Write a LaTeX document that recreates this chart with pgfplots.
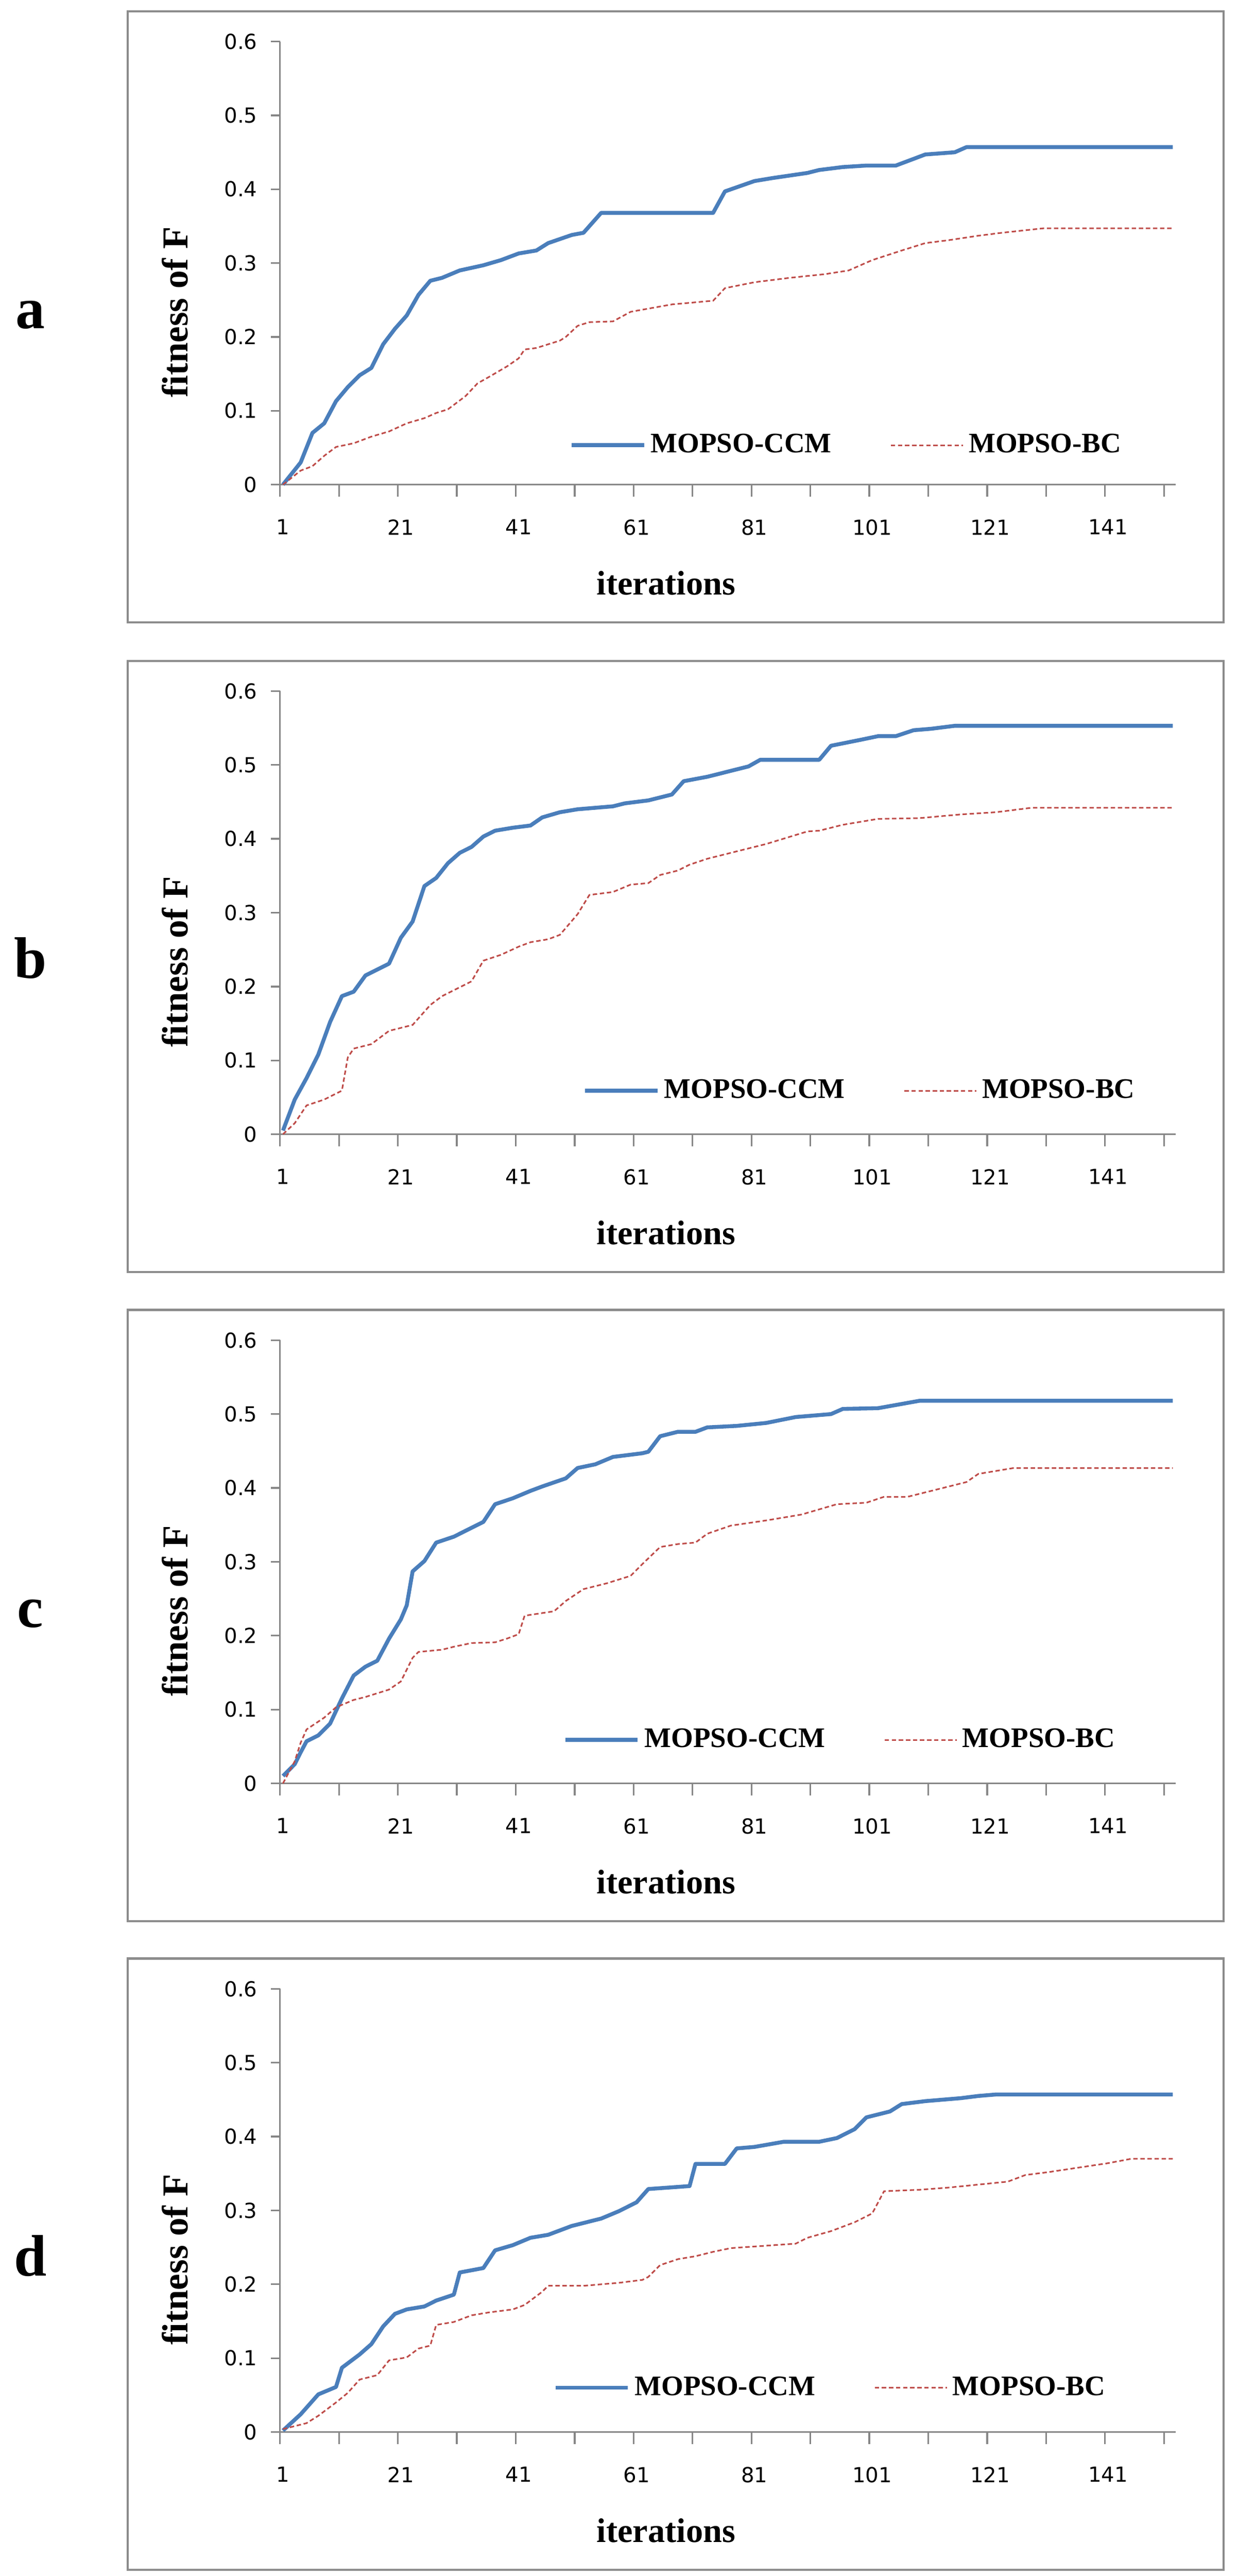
\documentclass[border=0pt]{standalone}
\usepackage{fontspec}
\setmainfont{Liberation Serif}
\newfontfamily\tickfont{DejaVu Sans}
\usepackage{pgfplots}
\pgfplotsset{compat=1.18}

\definecolor{ccm}{HTML}{4A7EBB}
\definecolor{bc}{HTML}{BE4B48}
\definecolor{axgray}{HTML}{868686}
\definecolor{framegray}{HTML}{8C8C8C}

\pgfplotsset{
  panel/.style={
    scale only axis, width=367.2pt, height=181.6pt,
    anchor=south west, clip=false,
    xmin=0.5, xmax=152.5, ymin=0, ymax=0.6,
    axis lines*=left,
    axis line style={axgray, line width=0.7pt},
    xtick={1,21,...,141},
    minor xtick={0.5,10.5,...,150.5},
    ytick={0,0.1,0.2,0.3,0.4,0.5,0.6},
    tick align=outside,
    major tick length=3.8pt, minor tick length=5pt,
    every tick/.style={axgray, line width=0.7pt},
    major x tick style={draw=none},
    tick label style={font=\tickfont\fontsize{8.5}{10}\selectfont},
    /pgf/number format/assume math mode=true,
    yticklabel style={/pgf/number format/fixed, /pgf/number format/precision=1, xshift=-2pt},
    xticklabel style={yshift=-7pt},
    xlabel={iterations},
    ylabel={fitness of F},
    xlabel style={at={(axis description cs:0.431,-0.2225)}, anchor=center,
                  font=\bfseries\fontsize{14}{16}\selectfont},
    ylabel style={at={(axis description cs:-0.117,0.389)}, anchor=center,
                  font=\bfseries\fontsize{15}{17}\selectfont},
    legend style={draw=none, fill=none, anchor=west, inner xsep=0pt,
                  legend columns=-1,
                  font=\bfseries\fontsize{11.6}{13}\selectfont,
                  /tikz/every even column/.append style={column sep=22pt}},
    legend image code/.code={\draw[#1] (0pt,0pt) -- (29.6pt,0pt);},
  },
  ccmline/.style={ccm, line width=1.6pt, line join=round},
  bcline/.style={bc, line width=0.65pt, dash pattern=on 1.8pt off 1.1pt},
}

\begin{document}
\begin{tikzpicture}
\path[use as bounding box] (0pt,0pt) rectangle (507.4pt,1055.6pt);

% panel a
\begin{axis}[panel, at={(114.8pt,857.0pt)},
  legend style={at={(axis description cs:0.323,0.089)}}]
\addplot[ccmline] coordinates {
(1,0) (4,0.03) (6,0.07) (8,0.083) (10,0.113) (12,0.132) (14,0.148) (16,0.158) (18,0.19) (20,0.211) (22,0.229) (24,0.257) (26,0.276) (28,0.28) (31,0.29) (35,0.297) (38,0.304) (41,0.313) (44,0.317) (46,0.327) (50,0.338) (52,0.341) (55,0.368) (74,0.368) (76,0.397) (81,0.411) (84,0.415) (90,0.422) (92,0.426) (96,0.43) (100,0.432) (105,0.432) (107,0.438) (110,0.447) (115,0.45) (117,0.457) (152,0.457)
};
\addplot[bcline] coordinates {
(1,0) (4,0.019) (6,0.025) (8,0.039) (10,0.051) (13,0.056) (16,0.065) (19,0.072) (22,0.083) (25,0.09) (27,0.097) (29,0.102) (31,0.114) (32,0.12) (34,0.137) (36,0.146) (39,0.16) (41,0.171) (42,0.183) (44,0.185) (48,0.195) (49,0.2) (51,0.215) (53,0.22) (57,0.221) (60,0.234) (67,0.244) (74,0.249) (76,0.266) (81,0.274) (87,0.28) (93,0.285) (97,0.29) (101,0.304) (106,0.317) (110,0.327) (114,0.331) (119,0.337) (123,0.341) (130,0.347) (152,0.347)
};
\legend{MOPSO-CCM, MOPSO-BC}
\end{axis}

% panel b
\begin{axis}[panel, at={(114.8pt,590.8pt)},
  legend style={at={(axis description cs:0.338,0.098)}}]
\addplot[ccmline] coordinates {
(1,0.005) (3,0.047) (5,0.076) (7,0.108) (9,0.152) (11,0.187) (13,0.193) (15,0.215) (17,0.223) (19,0.231) (21,0.266) (23,0.288) (25,0.336) (27,0.347) (29,0.367) (31,0.381) (33,0.389) (35,0.403) (37,0.411) (40,0.415) (43,0.418) (45,0.429) (48,0.436) (51,0.44) (57,0.444) (59,0.448) (63,0.452) (67,0.46) (69,0.478) (73,0.484) (77,0.492) (80,0.498) (82,0.507) (92,0.507) (94,0.526) (99,0.534) (102,0.539) (105,0.539) (108,0.547) (111,0.549) (115,0.553) (152,0.553)
};
\addplot[bcline] coordinates {
(1,0) (3,0.015) (5,0.039) (8,0.047) (11,0.059) (12,0.104) (13,0.116) (16,0.122) (19,0.14) (23,0.148) (26,0.175) (28,0.187) (33,0.207) (35,0.235) (38,0.243) (41,0.254) (43,0.26) (46,0.264) (48,0.27) (51,0.298) (53,0.324) (57,0.328) (60,0.338) (63,0.34) (65,0.351) (68,0.357) (70,0.365) (73,0.373) (77,0.381) (83,0.393) (90,0.41) (92,0.411) (96,0.419) (102,0.427) (109,0.428) (116,0.433) (122,0.436) (128,0.442) (152,0.442)
};
\legend{MOPSO-CCM, MOPSO-BC}
\end{axis}

% panel c
\begin{axis}[panel, at={(114.8pt,324.8pt)},
  legend style={at={(axis description cs:0.316,0.098)}}]
\addplot[ccmline] coordinates {
(1,0.01) (3,0.026) (4,0.042) (5,0.057) (7,0.065) (9,0.081) (11,0.115) (13,0.146) (15,0.158) (17,0.166) (19,0.196) (21,0.222) (22,0.241) (23,0.287) (25,0.301) (27,0.326) (30,0.334) (32,0.342) (35,0.354) (37,0.378) (40,0.386) (43,0.396) (45,0.402) (49,0.413) (51,0.427) (54,0.432) (57,0.442) (62,0.447) (63,0.449) (65,0.47) (68,0.476) (71,0.476) (73,0.482) (78,0.484) (83,0.488) (88,0.496) (94,0.5) (96,0.507) (102,0.508) (109,0.518) (152,0.518)
};
\addplot[bcline] coordinates {
(1,0) (3,0.03) (4,0.055) (5,0.073) (8,0.089) (10,0.103) (13,0.113) (15,0.117) (19,0.127) (21,0.138) (23,0.17) (24,0.178) (28,0.181) (30,0.185) (33,0.19) (37,0.191) (39,0.196) (41,0.202) (42,0.227) (47,0.233) (49,0.247) (52,0.263) (56,0.271) (60,0.281) (62,0.297) (65,0.32) (68,0.324) (71,0.326) (73,0.338) (77,0.349) (83,0.356) (89,0.364) (95,0.378) (100,0.38) (103,0.388) (107,0.388) (112,0.398) (117,0.408) (119,0.419) (125,0.427) (152,0.427)
};
\legend{MOPSO-CCM, MOPSO-BC}
\end{axis}

% panel d
\begin{axis}[panel, at={(114.8pt,59.0pt)},
  legend style={at={(axis description cs:0.305,0.1)}}]
\addplot[ccmline] coordinates {
(1,0.002) (4,0.024) (7,0.051) (10,0.061) (11,0.087) (14,0.105) (16,0.119) (18,0.143) (20,0.16) (22,0.166) (25,0.17) (27,0.178) (30,0.186) (31,0.216) (35,0.222) (37,0.246) (40,0.253) (43,0.263) (46,0.267) (50,0.279) (53,0.285) (55,0.289) (58,0.299) (61,0.311) (63,0.329) (70,0.333) (71,0.363) (76,0.363) (78,0.384) (81,0.386) (86,0.393) (92,0.393) (95,0.398) (98,0.41) (100,0.426) (102,0.43) (104,0.434) (106,0.444) (110,0.448) (116,0.452) (119,0.455) (122,0.457) (152,0.457)
};
\addplot[bcline] coordinates {
(1,0.004) (5,0.012) (7,0.022) (10,0.04) (12,0.053) (14,0.071) (17,0.077) (19,0.097) (22,0.101) (24,0.113) (26,0.117) (27,0.145) (30,0.149) (33,0.158) (36,0.162) (40,0.166) (42,0.172) (45,0.19) (46,0.198) (52,0.198) (58,0.202) (62,0.206) (63,0.21) (65,0.226) (68,0.234) (71,0.238) (74,0.244) (77,0.249) (88,0.255) (90,0.263) (94,0.272) (98,0.284) (101,0.296) (103,0.326) (109,0.328) (114,0.331) (119,0.335) (124,0.339) (127,0.348) (131,0.352) (136,0.358) (141,0.364) (145,0.37) (152,0.37)
};
\legend{MOPSO-CCM, MOPSO-BC}
\end{axis}

% frames and panel letters
\foreach \y/\lab in {857.0/a, 590.8/b, 324.8/c, 59.0/d} {
  \draw[framegray, line width=0.9pt] (52.4pt,\y pt-56.4pt) rectangle (501.6pt,\y pt+194pt);
  \node[anchor=base, font=\bfseries\fontsize{24}{28}\selectfont, inner sep=0pt] at (12.4pt,\y pt+64pt) {\lab};
}
\end{tikzpicture}
\end{document}
